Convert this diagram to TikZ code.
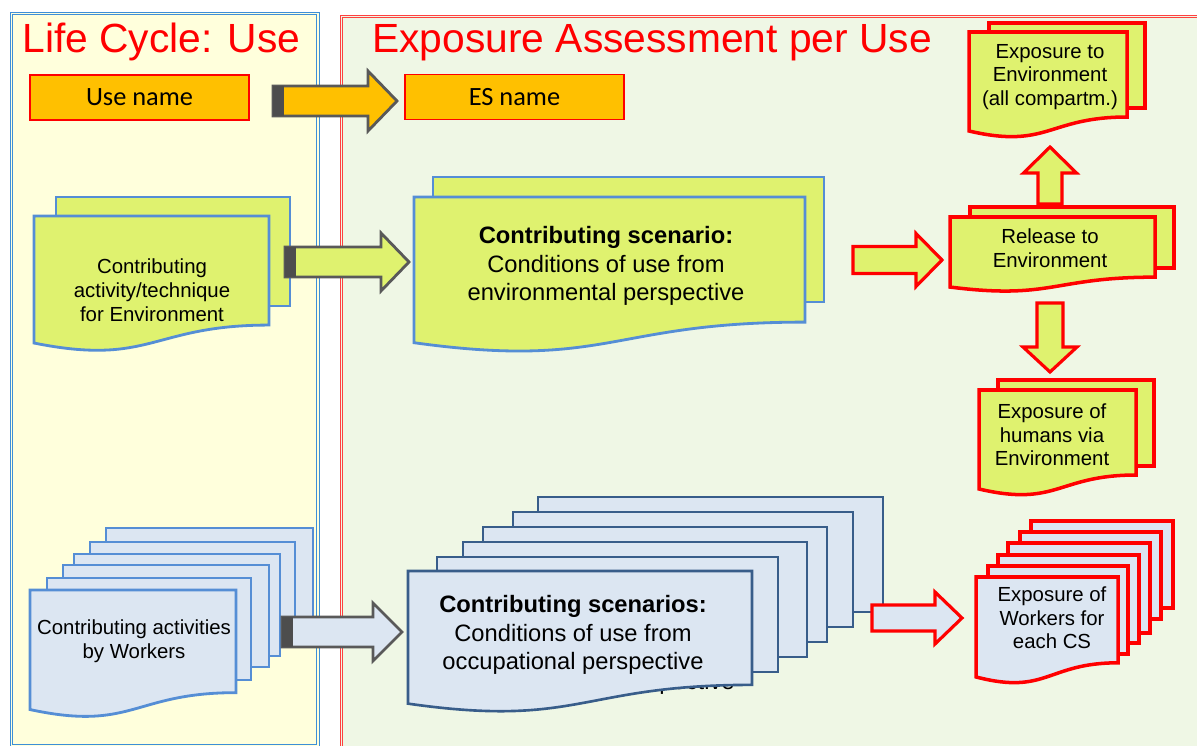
\documentclass[tikz,border=0pt]{standalone}
\usepackage{fontspec}
\setmainfont{Liberation Sans}
\newfontfamily\calibri{Carlito}
\usetikzlibrary{calc}

\definecolor{lifeyellow}{HTML}{FFFFDC}
\definecolor{assessgreen}{HTML}{EFF7E5}
\definecolor{lime}{HTML}{DFF26F}
\definecolor{paleblue}{HTML}{DCE6F2}
\definecolor{docblue}{HTML}{558ED5}
\definecolor{sheetnavy}{HTML}{385D8A}
\definecolor{amber}{HTML}{FFC000}
\definecolor{arrowgray}{HTML}{595959}
\definecolor{tailgray}{HTML}{4D4D4D}
\definecolor{panelblue}{HTML}{3D8FD8}

% sheet with wavy bottom: style, left, top, width, height
\newcommand{\docsheet}[5]{%
  \draw[#1] (#2,#3) -- ({#2+#4},#3) -- ({#2+#4},{#3+0.802*#5})
    .. controls ({#2+0.5*#4},{#3+0.802*#5}) and ({#2+0.5*#4},{#3+1.1075*#5})
    .. (#2,{#3+0.934*#5}) -- cycle;}

% block arrow pointing right: style, tail, tip, shaft half, head half, head length
\newcommand{\rightblock}[6]{%
  \draw[#1] ($(#2)+(0,-#4)$) -- ($(#3)+(-#6,-#4)$) -- ($(#3)+(-#6,-#5)$) -- (#3)
    -- ($(#3)+(-#6,#5)$) -- ($(#3)+(-#6,#4)$) -- ($(#2)+(0,#4)$) -- cycle;}

% block arrow up or down: style, tail, tip, shaft half, head half, signed head length
\newcommand{\vertblock}[6]{%
  \draw[#1] ($(#2)+(-#4,0)$) -- ($(#3)+(-#4,{-(#6)})$) -- ($(#3)+(-#5,{-(#6)})$) -- (#3)
    -- ($(#3)+(#5,{-(#6)})$) -- ($(#3)+(#4,{-(#6)})$) -- ($(#2)+(#4,0)$) -- cycle;}

% dark block at the tail of a gray arrow
\newcommand{\tailblock}[2]{%
  \fill[tailgray] ($(#1)+(0,-#2)$) rectangle ($(#1)+(11,#2)$);}

\begin{document}
\begin{tikzpicture}[x=0.02cm, y=-0.02cm,
    every node/.style={inner sep=0pt},
    title/.style={anchor=base west, 
      text=red, 
      font=\fontsize{23.2}{28}\selectfont},
    namebox/.style={draw=red, 
      fill=amber, 
      line width=0.8pt, 
      minimum width=4.38cm, 
      minimum height=0.9cm, 
      font=\calibri\fontsize{15}{18}\selectfont},
    doctext/.style={align=center, font=\fontsize{11.6}{13.5}\selectfont},
    cstext/.style={align=center, font=\fontsize{13.5}{16.4}\selectfont},
    envsheet/.style={draw=docblue, fill=lime, line width=1.6pt},
    worksheet/.style={draw=docblue, fill=paleblue, line width=1.6pt},
    occsheet/.style={draw=sheetnavy, fill=paleblue, line width=1.5pt},
    redsheet/.style={draw=red, fill=#1, line width=2pt},
    grayarrow/.style={draw=arrowgray, fill=#1, line width=1.6pt},
    redarrow/.style={draw=red, fill=#1, line width=1.8pt}]

  \useasboundingbox (0,0) rectangle (1197,746);
  \clip (0,0) rectangle (1197,746);

% PANELS

  \fill[lifeyellow] (10,12) rectangle (319,746);
  \draw[panelblue, line width=0.5pt] (10,12) rectangle (319,746);
  \draw[panelblue, line width=0.5pt] (12.5,14.5) rectangle (316.5,744);

  \fill[assessgreen] (340,15) rectangle (1210,760);
  \draw[red!75, line width=0.5pt] (340,15) rectangle (1210,760);
  \draw[red!75, line width=0.5pt] (342.5,17.5) rectangle (1210,760);

  \node[title] (lifecycletitle) at (22,53) {Life Cycle: Use};
  \node[title] (assessmenttitle) at (372,53) {Exposure Assessment per Use};

% NAMES

  \node[namebox] (usename) at (139.5,97.5) {Use name};
  \node[namebox] (esname) at (514.5,97) {ES name};

  \coordinate (usetail) at (273,101);
  \coordinate (usetip) at (397,101);
  \rightblock{grayarrow=amber}{usetail}{usetip}{15}{30}{29}
  \tailblock{usetail}{15}

% ENVIRONMENT

  \draw[envsheet] (56,197) rectangle (290,306);
  \docsheet{envsheet}{34}{216}{235}{136}
  \node[doctext] (envactivity) at (152,290) 
    {Contributing\\activity/technique\\for Environment};

  \coordinate (envtail) at (285,262);
  \coordinate (envtip) at (409,262);
  \rightblock{grayarrow=lime}{envtail}{envtip}{15}{29}{28}
  \tailblock{envtail}{15}

  \draw[envsheet] (433,177) rectangle (824,302);
  \docsheet{envsheet}{414}{197}{391}{156}
  \node[cstext] (envscenario) at (606,266) 
    {\textbf{Contributing scenario:}\\Conditions of use from\\environmental perspective};

  \coordinate (releasetail) at (853,260);
  \coordinate (releasetip) at (942,260);
  \rightblock{redarrow=lime}{releasetail}{releasetip}{13.5}{26.5}{26}

  \draw[redsheet=lime] (970,207) rectangle (1174,268);
  \docsheet{redsheet=lime}{950}{217}{205}{75}
  \node[doctext] (release) at (1050,248) {Release to\\Environment};

  \coordinate (uptail) at (1050,204);
  \coordinate (uptip) at (1050,147);
  \vertblock{redarrow=lime}{uptail}{uptip}{12}{26.5}{-26}

  \draw[redsheet=lime] (989,23) rectangle (1145,108);
  \docsheet{redsheet=lime}{969}{32}{158}{106}
  \node[doctext] (envexposure) at (1050,77) 
    {Exposure to\\Environment\\(all compartm.)};

  \coordinate (downtail) at (1050,303);
  \coordinate (downtip) at (1050,372);
  \vertblock{redarrow=lime}{downtail}{downtip}{13}{27}{25}

  \draw[redsheet=lime] (998,380) rectangle (1154,466);
  \docsheet{redsheet=lime}{979}{390}{157}{106}
  \node[doctext] (humanexposure) at (1052,435) 
    {Exposure of\\humans via\\Environment};

% WORKERS

  \draw[worksheet] (106,528) rectangle (313,631);
  \draw[worksheet] (90,542) rectangle (295,644);
  \draw[worksheet] (74,554) rectangle (280,656);
  \draw[worksheet] (63,565) rectangle (269,667);
  \draw[worksheet] (47,578) rectangle (251,680);
  \docsheet{worksheet}{30}{590}{206}{128}
  \node[doctext] (workeractivities) at (134,641) 
    {Contributing activities\\by Workers};

  \coordinate (worktail) at (282,632);
  \coordinate (worktip) at (402,632);
  \rightblock{grayarrow=paleblue}{worktail}{worktip}{15}{29}{29}
  \tailblock{worktail}{15}

  \draw[occsheet] (538,497) rectangle (883,612);
  \draw[occsheet] (513,512) rectangle (853,627);
  \draw[occsheet] (483,527) rectangle (827,642);
  \draw[occsheet] (463,542) rectangle (807,657);
  \draw[occsheet] (437,557) rectangle (778,672);
  \node[cstext, anchor=base east] (hiddenline) at (735,689) {perspective};
  \docsheet{occsheet}{408}{571}{344}{142}
  \node[cstext] (workerscenarios) at (573,635) 
    {\textbf{Contributing scenarios:}\\Conditions of use from\\occupational perspective};

  \coordinate (exptail) at (872,618);
  \coordinate (exptip) at (962,618);
  \rightblock{redarrow=paleblue}{exptail}{exptip}{13}{26}{27}

  \draw[redsheet=paleblue] (1031,521) rectangle (1173,608);
  \draw[redsheet=paleblue] (1020,532) rectangle (1161,619);
  \draw[redsheet=paleblue] (1008,543) rectangle (1150,633);
  \draw[redsheet=paleblue] (998,555) rectangle (1139,643);
  \draw[redsheet=paleblue] (988,566) rectangle (1128,654);
  \docsheet{redsheet=paleblue}{976}{577}{142}{107}
  \node[doctext] (workerexposure) at (1052,618) 
    {Exposure of\\Workers for\\each CS};

\end{tikzpicture}
\end{document}
